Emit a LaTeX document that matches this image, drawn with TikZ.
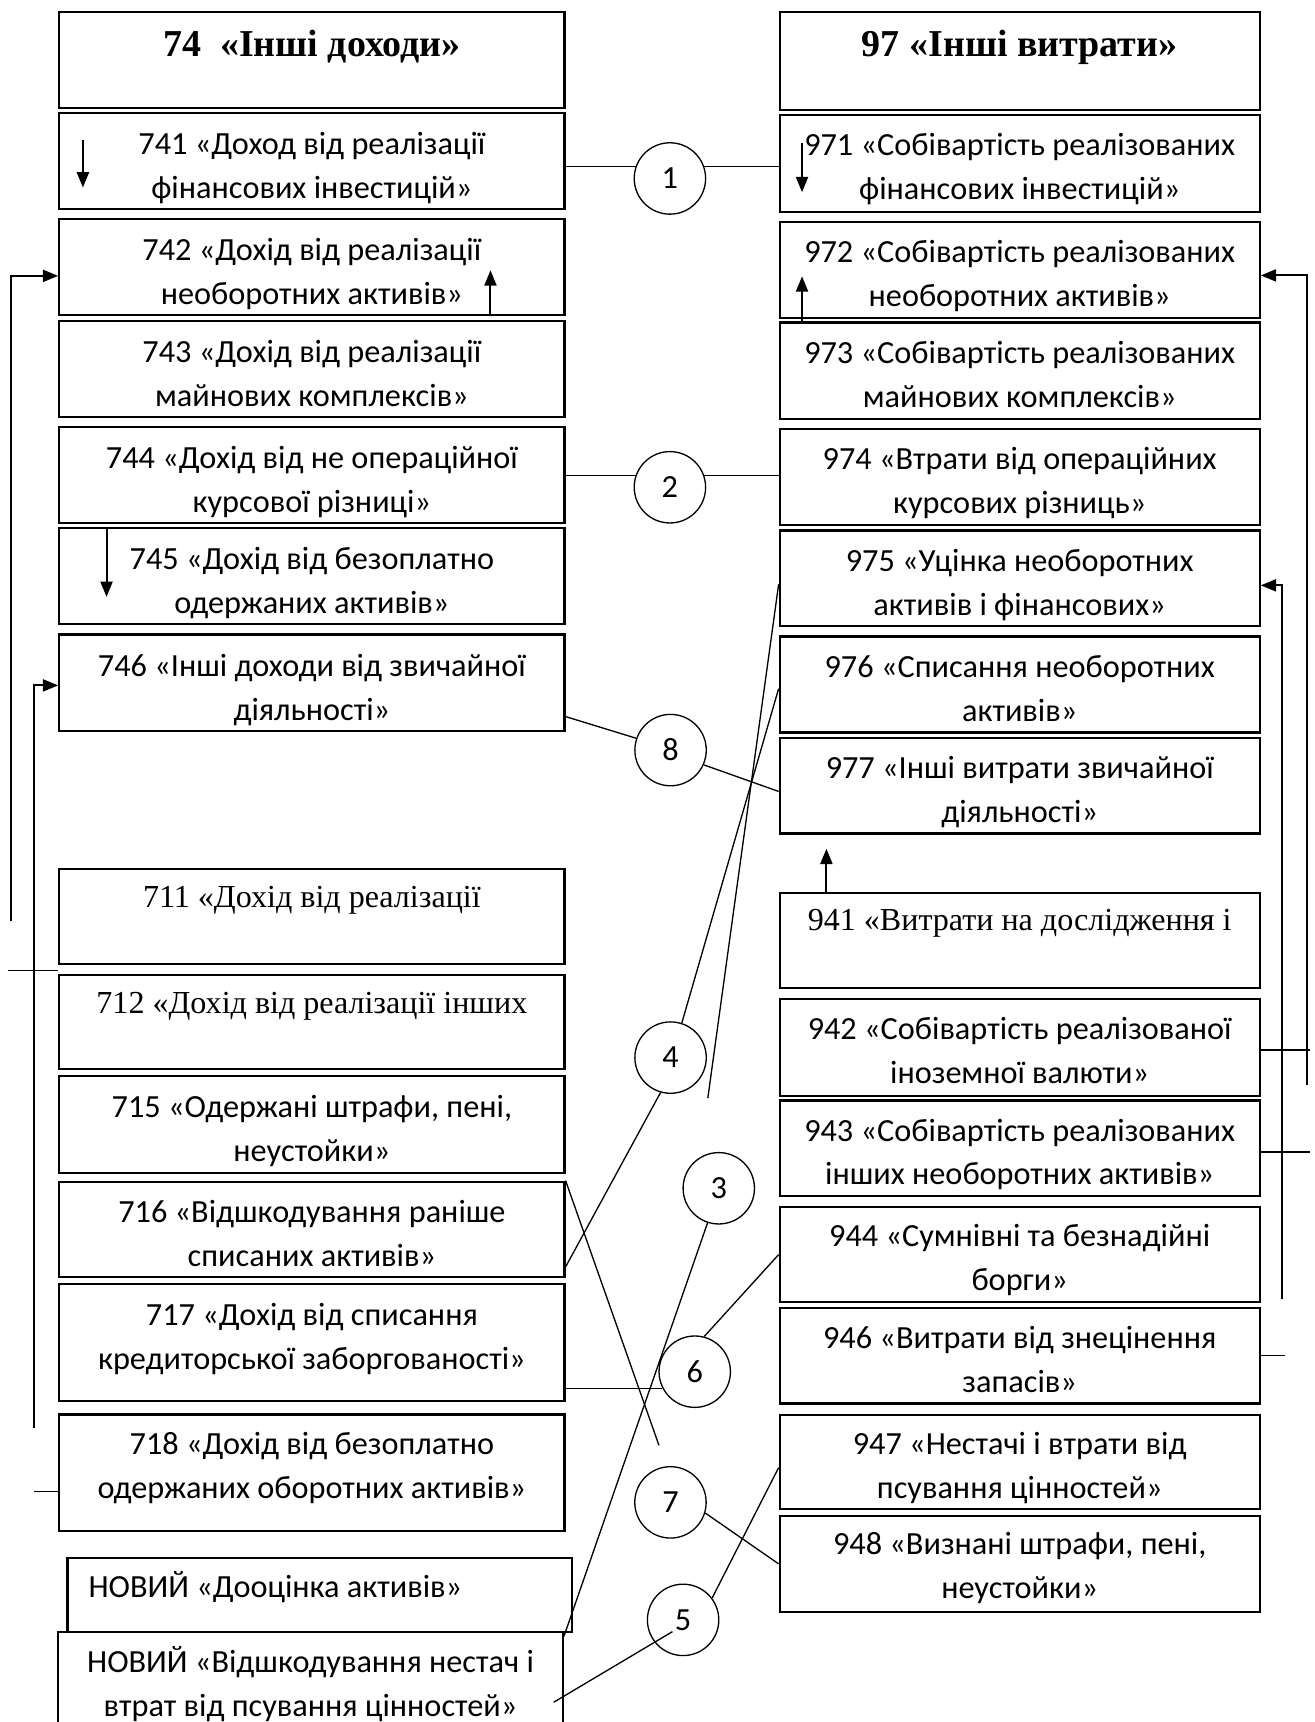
\documentclass[tikz,border=0pt]{standalone}
\usepackage{fontspec}
\setmainfont{Liberation Serif}
\newfontfamily\carlito{Carlito}
\usetikzlibrary{calc}
\usetikzlibrary{arrows.meta}
\tikzstyle{accbox}=[draw,line width=1pt,inner sep=0pt,align=center,font=\carlito\fontsize{14.7}{20}\selectfont]
\tikzstyle{serifbox}=[accbox,font=\rmfamily\fontsize{14.6}{20}\selectfont]
\tikzstyle{headbox}=[accbox,font=\rmfamily\bfseries\fontsize{17.3}{20}\selectfont]
\tikzstyle{num}=[draw,circle,line width=0.6pt,minimum size=32.5pt,inner sep=0pt,font=\carlito\fontsize{14.7}{20}\selectfont]
\tikzstyle{link}=[line width=0.6pt]
\tikzstyle{arr}=[line width=0.9pt,-{Triangle[length=7pt,width=5.5pt]}]
\newcommand{\account}[8][accbox]{ % Syntax: [style] {name}{left}{right}{top}{bottom}{last baseline}{text}
\pgfmathsetmacro{\bw}{(#4-#3)*0.5}
\pgfmathsetmacro{\bt}{#7*0.5}
\pgfmathsetmacro{\bd}{(#6-#5-#7)*0.5}
\node[#1,minimum width=\bw pt,text height=\bt pt,text depth=\bd pt,anchor=north west] (#2) at (#3,#5) {#8};
}
\begin{document}
\begin{tikzpicture}[x=0.5pt,y=-0.5pt]
  \useasboundingbox (0,0) rectangle (1197,1568);
  \clip (0,0) rectangle (1197,1568);
  % income accounts
  \account[headbox]{L74}{53}{513}{10}{97}{40.5}{74\ \ «Інші доходи»}
  \account{L741}{53}{513}{101.8}{189.2}{78}{741 «Доход від реалізації\\фінансових інвестицій»}
  \account{L742}{53}{513}{198.3}{286.1}{78}{742 «Дохід від реалізації\\необоротних активів»}
  \account{L743}{53}{513}{291}{378.7}{78}{743 «Дохід від реалізації\\майнових комплексів»}
  \account{L744}{53}{513}{387.5}{475.3}{78}{744 «Дохід від не операційної\\курсової різниці»}
  \account{L745}{53}{513}{479.5}{567.3}{78}{745 «Дохід від безоплатно\\одержаних активів»}
  \account{L746}{53}{513}{576.7}{664.5}{78}{746 «Інші доходи від звичайної\\діяльності»}
  \account[serifbox]{L711}{53}{513}{790}{876.6}{35.7}{711 «Дохід від реалізації}
  \account[serifbox]{L712}{53}{513}{886.6}{972.7}{35.7}{712 «Дохід від реалізації інших}
  \account{L715}{53}{513}{979}{1067}{78}{715 «Одержані штрафи, пені,\\неустойки»}
  \account{L716}{53}{513}{1075}{1162}{77.3}{716 «Відшкодування раніше\\списаних активів»}
  \account{L717}{53}{513}{1168}{1275}{77.8}{717 «Дохід від списання\\кредиторської заборгованості»}
  \account{L718}{53}{513}{1287}{1393}{76.5}{718 «Дохід від безоплатно\\одержаних оборотних активів»}
  \account{N2}{52}{511.5}{1485}{1600}{76.7}{НОВИЙ «Відшкодування нестач і\\втрат від псування цінностей»}
  \node[accbox,anchor=north west,minimum width=229.75pt,text width=210.55pt,align=flush left,text height=18pt,text depth=15.5pt] (N1) at (60.5,1418) {НОВИЙ «Дооцінка активів»};
  % expense accounts
  \account[headbox]{R97}{709}{1146}{9.75}{99.2}{40.5}{97 «Інші витрати»}
  \account{R971}{709}{1146}{103.4}{191.8}{77}{971 «Собівартість реалізованих\\фінансових інвестицій»}
  \account{R972}{709}{1146}{200.9}{288.7}{77}{972 «Собівартість реалізованих\\необоротних активів»}
  \account{R973}{709}{1146}{292.6}{380.4}{77}{973 «Собівартість реалізованих\\майнових комплексів»}
  \account{R974}{709}{1146}{389.5}{477.2}{77}{974 «Втрати від операційних\\курсових різниць»}
  \account{R975}{709}{1146}{482}{569}{77}{975 «Уцінка необоротних\\активів і фінансових»}
  \account{R976}{709}{1146}{578.6}{666}{77}{976 «Списання необоротних\\активів»}
  \account{R977}{709}{1146}{671.3}{758}{77}{977 «Інші витрати звичайної\\діяльності»}
  \account[serifbox]{R941}{709}{1146}{811.8}{898.4}{34.7}{941 «Витрати на дослідження і}
  \account{R942}{709}{1146}{908.5}{997}{77}{942 «Собівартість реалізованої\\іноземної валюти»}
  \account{R943}{709}{1146}{1001}{1087.8}{77}{943 «Собівартість реалізованих\\інших необоротних активів»}
  \account{R944}{709}{1146}{1098}{1184.8}{76}{944 «Сумнівні та безнадійні\\борги»}
  \account{R946}{709}{1146}{1189.7}{1277}{77.6}{946 «Витрати від знецінення\\запасів»}
  \account{R947}{709}{1146}{1287.4}{1373.3}{75.7}{947 «Нестачі і втрати від\\псування цінностей»}
  \account{R948}{709}{1146}{1379.5}{1466.5}{74.8}{948 «Визнані штрафи, пені,\\неустойки»}
  % numbered circles
  \node[num] (c1) at (610,162.5) {1};
  \node[num] (c2) at (610,443.7) {2};
  \node[num] (c8) at (610.6,683) {8};
  \node[num] (c4) at (610.6,963) {4};
  \node[num] (c3) at (654.5,1082) {3};
  \node[num] (c6) at (632.6,1249) {6};
  \node[num] (c7) at (610.5,1368) {7};
  \node[num] (c5) at (622,1475) {5};
  % small arrows inside the boxes
  \draw[arr] ($(L741.north west)+(22.5,26)$) -- ++(0,43);
  \draw[arr] ($(L742.south west)+(393.6,0)$) -- ++(0,-42);
  \draw[arr] ($(L745.north west)+(44,0)$) -- ++(0,64);
  \draw[arr] ($(R971.north west)+(21.3,27)$) -- ++(0,44.6);
  \draw[arr] ($(R973.north west)+(21.3,0)$) -- ++(0,-41);
  \draw[arr] ($(R941.north west)+(43.5,0)$) -- ++(0,-39);
  % side lines
  \coordinate (l742) at (9.6,839);
  \coordinate (l746) at (31.4,1300);
  \coordinate (r972) at (1190.5,988);
  \coordinate (r975) at (1167.5,1183);
  \draw[arr] (l742) |- ($(L742.west)+(0,8)$);
  \draw[arr] (l746) |- ($(L746.west)+(0,2.5)$);
  \draw[link] ($(L712.north west)+(0,-2.6)$) -- ++(-45.3,0);
  \draw[link] ($(L718.west)+(0,17)$) -- ++(-21.6,0);
  \draw[arr] (r972) |- ($(R972.east)+(0,5)$);
  \draw[arr] (r975) |- ($(R975.east)+(0,6.5)$);
  \draw[link] ($(R942.east)+(0,2.3)$) -- ++(44.5,0);
  \draw[link] ($(R943.east)+(0,3.6)$) -- ++(44.5,0);
  \draw[link] (R946.east) -- ++(22,0);
  % connectors through the circles
  \coordinate (e975) at (644.5,1000);
  \coordinate (e716) at (600,1316);
  \draw[link] (L741.east |- c1.161) -- (c1.161);
  \draw[link] (c1.19) -- (c1.19 -| R971.west);
  \draw[link] (L744.east |- c2.161) -- (c2.161);
  \draw[link] (c2.19) -- (c2.19 -| R974.west);
  \draw[link] ($(L746.south east)+(0,-14)$) -- (c8.161);
  \draw[link] (c8.-24) -- ($(R977.west)+(0,5)$);
  \draw[link] ($(R975.west)+(0,5.5)$) -- (e975);
  \draw[link] ($(R976.west)+(0,3.7)$) -- (c4.72);
  \draw[link] ($(L716.south east)+(0,-10.4)$) -- (c4.254);
  \draw[link] (L716.north east) -- (e716);
  \draw[link] (c3.252) -- ($(N2.north east)+(0,5)$);
  \draw[link] (L717.east |- c6.207) -- (c6.207);
  \draw[link] (c6.75) -- (R944.west);
  \draw[link] (c7.-17) -- (R948.west);
  \draw[link] (c5.37) -- ($(R947.west)+(0,5)$);
  \draw[link] ($(N2.north east)+(-9.3,65)$) -- ($(c5)+(-9.7,10.7)$);
\end{tikzpicture}
\end{document}
